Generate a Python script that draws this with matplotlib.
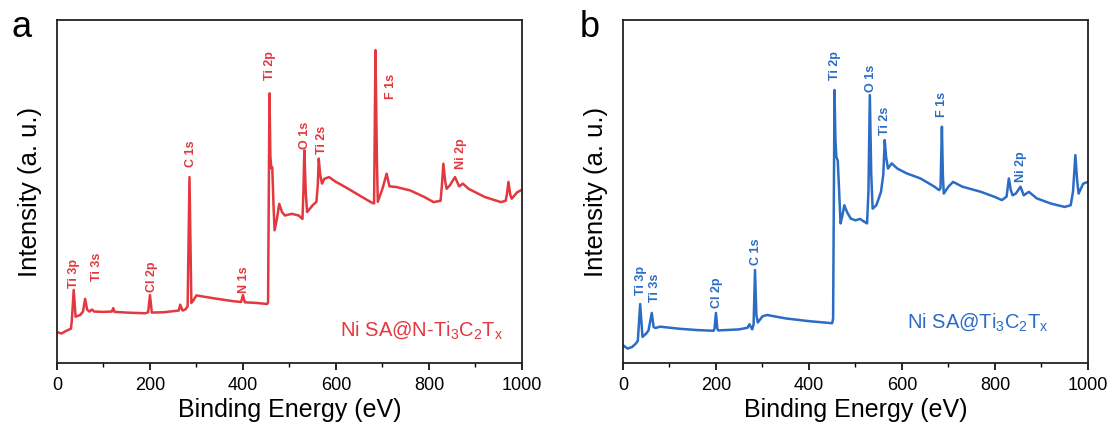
import matplotlib
matplotlib.use("Agg")
import matplotlib.pyplot as plt
from matplotlib.ticker import MultipleLocator

plt.rcParams['font.family'] = ['Liberation Sans', 'DejaVu Sans']
plt.rcParams['mathtext.default'] = 'regular'

# survey spectrum of Ni SA@N-Ti3C2Tx (binding energy in eV, intensity in a.u.)
energy_a = [0, 10, 20, 30, 32, 36, 40, 50, 56, 60.5, 65, 70, 75, 80, 100, 118, 121, 124,
            150, 190, 196, 200, 204, 230, 262, 265, 270, 276, 281, 285, 289, 292,
            300, 340, 380, 396, 400, 404, 430, 452, 454, 457, 459, 461, 463, 466,
            468, 473, 478, 484, 490, 505, 520, 528, 530, 532, 535, 538, 550, 558,
            561, 563, 566, 570, 575, 585, 600, 620, 650, 675, 682, 685, 688, 690,
            700, 709, 715, 730, 760, 790, 810, 825, 828, 831, 835, 838, 845, 856,
            865, 873, 885, 920, 955, 965, 968, 971, 975, 978, 990, 1000]
counts_a = [9.0, 8.6, 9.4, 10.0, 12.5, 21.3, 13.5, 14.0, 15.0, 18.7, 15.5, 15.0, 15.6, 15.0, 14.9, 15.0, 16.0, 14.9,
            14.7, 14.5, 14.8, 19.8, 14.7, 14.8, 15.3, 17.0, 15.3, 15.6, 16.5, 54.2, 17.5, 18.0,
            19.7, 18.8, 18.0, 17.8, 19.8, 17.7, 17.5, 17.2, 17.6, 78.6, 60.0, 56.7, 57.0, 45.0,
            38.7, 42.0, 46.4, 44.0, 43.0, 43.5, 43.0, 42.0, 50.0, 62.0, 50.0, 44.0, 46.0, 47.0,
            52.0, 59.6, 55.0, 52.3, 53.7, 54.2, 52.8, 51.3, 48.9, 46.9, 46.5, 91.2, 60.0, 47.0,
            50.8, 55.2, 51.5, 51.3, 50.3, 48.4, 46.9, 47.3, 52.0, 58.1, 53.0, 50.8, 51.8, 54.2,
            51.5, 52.3, 50.8, 48.4, 46.9, 47.3, 49.5, 52.8, 49.0, 47.9, 49.8, 50.5]

# survey spectrum of Ni SA@Ti3C2Tx
energy_b = [0, 10, 20, 28, 32, 37, 42, 50, 55, 62, 66, 70, 80, 120, 160, 195, 197, 200,
            203, 205, 250, 268, 272, 278, 281, 284, 287, 290, 300, 310, 350, 400,
            450, 452, 455, 457, 459, 462, 465, 468, 472, 476, 482, 490, 500, 510,
            520, 525, 528, 531, 534, 537, 545, 555, 560, 563, 566, 570, 578, 590,
            610, 640, 670, 680, 683, 686, 688, 690, 700, 710, 730, 770, 800, 815,
            825, 830, 834, 838, 845, 855, 862, 873, 890, 920, 950, 963, 968, 973,
            977, 980, 990, 1000]
counts_b = [5.2, 4.2, 4.7, 5.7, 6.5, 17.2, 7.6, 8.6, 9.5, 14.6, 10.5, 10.2, 10.6, 10.0, 9.6, 9.4, 10.0, 14.6,
            10.0, 9.5, 9.8, 10.3, 11.3, 9.8, 11.3, 27.1, 14.0, 11.8, 13.6, 14.0, 13.0, 12.2,
            11.6, 13.0, 79.6, 65.0, 60.1, 59.0, 50.0, 40.7, 43.0, 46.0, 44.0, 42.1, 41.6, 42.0,
            41.1, 40.7, 50.0, 78.1, 55.0, 45.0, 46.0, 49.9, 55.0, 65.0, 60.0, 56.7, 58.2, 56.7,
            55.3, 53.8, 51.4, 50.4, 51.0, 68.9, 55.0, 49.4, 51.4, 52.8, 51.4, 49.9, 48.4, 47.5,
            48.5, 53.8, 50.5, 48.9, 49.4, 51.4, 48.9, 49.9, 48.0, 46.5, 45.5, 46.0, 50.0, 60.6,
            53.0, 49.4, 52.3, 52.8]

# peak assignments: label, position (eV), height of the label's lower end
peaks_a = ["Ti 3p", "Ti 3s", "Cl 2p", "C 1s", "N 1s", "Ti 2p", "O 1s", "Ti 2s", "F 1s", "Ni 2p"]
peak_x_a = [36, 86, 204, 289, 402, 459, 534, 570, 718, 870]
peak_y_a = [22.0, 24.0, 20.7, 57.0, 20.4, 82.5, 62.5, 61.0, 77.0, 56.7]

peaks_b = ["Ti 3p", "Ti 3s", "Cl 2p", "C 1s", "Ti 2p", "O 1s", "Ti 2s", "F 1s", "Ni 2p"]
peak_x_b = [39, 69, 202, 286, 457, 534, 563, 686, 857]
peak_y_b = [19.8, 17.8, 16.0, 28.6, 82.5, 79.0, 66.4, 71.8, 52.8]

red = '#e2383f'
blue = '#2b6cc4'

fig = plt.figure(figsize=(11.15, 4.3), dpi=100)
ax_a = fig.add_axes([0.0511, 0.1558, 0.4170, 0.7977])
ax_b = fig.add_axes([0.5587, 0.1558, 0.4170, 0.7977])

panels = [
    (ax_a, energy_a, counts_a, red, peaks_a, peak_x_a, peak_y_a,
     r'Ni SA@N-Ti$_3$C$_2$T$_x$', 0.959, 0.095),
    (ax_b, energy_b, counts_b, blue, peaks_b, peak_x_b, peak_y_b,
     r'Ni SA@Ti$_3$C$_2$T$_x$', 0.915, 0.12),
]

for ax, ex, cy, col, names, px, py, sample, sx, sy in panels:
    ax.plot(ex, cy, color=col, lw=1.8)
    for name, x, y in zip(names, px, py):
        ax.text(x, y, name, rotation=90, ha='center', va='bottom',
                fontsize=9, color=col, fontweight='bold')
    ax.text(sx, sy, sample, transform=ax.transAxes,
            ha='right', va='center', fontsize=14.5, color=col)
    ax.set_xlim(0, 1000)
    ax.set_ylim(0, 100)
    ax.xaxis.set_major_locator(MultipleLocator(200))
    ax.xaxis.set_minor_locator(MultipleLocator(100))
    ax.tick_params(axis='x', which='major', direction='out', length=5, width=1.2,
                   labelsize=13, pad=5)
    ax.tick_params(axis='x', which='minor', direction='out', length=3, width=1.0)
    ax.set_yticks([])
    for s in ax.spines.values():
        s.set_linewidth(1.3)
        s.set_color('#222222')
    ax.set_xlabel('Binding Energy (eV)', fontsize=18, labelpad=3)
    ax.set_ylabel('Intensity (a. u.)', fontsize=18.5, labelpad=11)

fig.text(0.010, 1 - 37 / 430, 'a', fontsize=26, va='baseline')
fig.text(0.520, 1 - 37 / 430, 'b', fontsize=26, va='baseline')

fig.savefig('out.png', dpi=100)
